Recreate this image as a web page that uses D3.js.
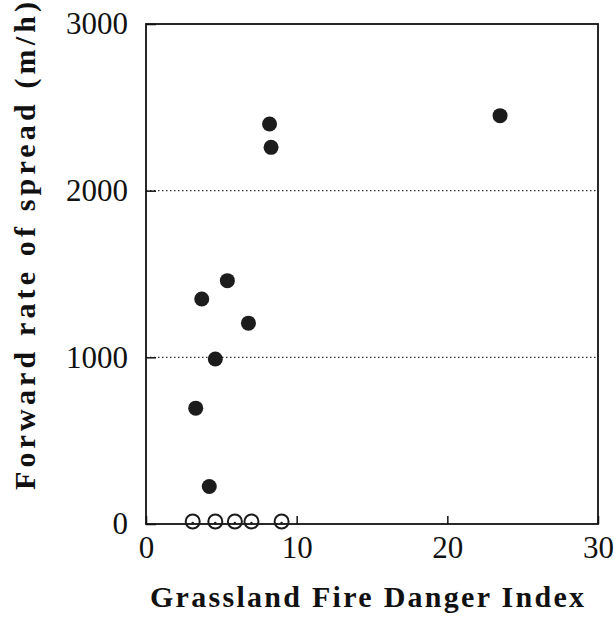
<!DOCTYPE html>
<html lang="en">
<head>
<meta charset="UTF-8">
<title>Forward rate of spread vs GFDI</title>
<style>
    body{
        margin: 0;
        background-color: #fff;
    }
    #chart{
        width: 614px;
        height: 635px;
    }
    text{
        font-family: "Liberation Serif", "DejaVu Serif", serif;
        fill: #111;
    }
</style>
</head>
<body>
<div id="chart"></div>
<script src="https://d3js.org/d3.v7.min.js"></script>
<script>

// filled circles: fires that spread
let spreadGfdi = [8.2, 8.3, 23.5, 5.4, 3.7, 6.8, 4.6, 3.3, 4.2]
let spreadRate = [2400, 2260, 2450, 1460, 1350, 1205, 990, 695, 225]

// open circles: fires that did not spread
let noSpreadGfdi = [3.1, 4.6, 5.9, 7.0, 9.0]
let noSpreadRate = [15, 15, 15, 15, 15]

let xTicks = [0, 10, 20, 30]
let yTicks = [0, 1000, 2000, 3000]
let gridLines = [1000, 2000]

let margin = {top: 24, right: 16, bottom: 111, left: 146},
    w = 614,
    h = 635,
    width = w - margin.left - margin.right,
    height = h - margin.top - margin.bottom;

let svg = d3.select("#chart")
    .append("svg")
    .attr("width", w)
    .attr("height", h)
    .append("g")
    .attr("transform", `translate(${margin.left},${margin.top})`);

let xScale = d3.scaleLinear().domain([0, 30]).range([0, width])
let yScale = d3.scaleLinear().domain([0, 3000]).range([height, 0])

// dotted gridlines
svg.selectAll(".grid")
    .data(gridLines)
    .join("line")
    .attr("class", "grid")
    .attr("x1", 0)
    .attr("x2", width)
    .attr("y1", d => yScale(d))
    .attr("y2", d => yScale(d))
    .attr("stroke", "#333")
    .attr("stroke-width", 1.2)
    .attr("stroke-dasharray", "1.5 2.5")

// x axis (ticks point inward)
let xAxis = svg.append("g")
    .attr("transform", `translate(0,${height})`)
    .call(d3.axisBottom(xScale).tickValues(xTicks).tickSize(-8).tickPadding(12).tickFormat(d3.format("d")))
xAxis.select(".domain").remove()
xAxis.selectAll(".tick line").attr("stroke", "#111").attr("stroke-width", 1.5)
xAxis.selectAll(".tick text")
    .style("font-size", "31px")
    .style("font-family", "'Liberation Serif', serif")
    .attr("fill", "#111")

// y axis
let yAxis = svg.append("g")
    .call(d3.axisLeft(yScale).tickValues(yTicks).tickSize(-10).tickPadding(18).tickFormat(d3.format("d")))
yAxis.select(".domain").remove()
yAxis.selectAll(".tick line").attr("stroke", "#111").attr("stroke-width", 1.5)
yAxis.selectAll(".tick text")
    .style("font-size", "31px")
    .style("font-family", "'Liberation Serif', serif")
    .attr("fill", "#111")

// frame
svg.append("rect")
    .attr("x", 0)
    .attr("y", 0)
    .attr("width", width)
    .attr("height", height)
    .attr("fill", "none")
    .attr("stroke", "#111")
    .attr("stroke-width", 1.8)

// filled points
svg.append("g")
    .selectAll(".dot")
    .data(spreadGfdi.map((d, i) => ({x: d, y: spreadRate[i]})))
    .join("circle")
    .attr("class", "dot")
    .attr("cx", d => xScale(d.x))
    .attr("cy", d => yScale(d.y))
    .attr("r", 7.5)
    .attr("fill", "#1c1c1c")

// open points
let open = svg.append("g")
    .selectAll(".open")
    .data(noSpreadGfdi.map((d, i) => ({x: d, y: noSpreadRate[i]})))
    .join("g")
    .attr("class", "open")
open.append("circle")
    .attr("cx", d => xScale(d.x))
    .attr("cy", d => yScale(d.y))
    .attr("r", 7)
    .attr("fill", "none")
    .attr("stroke", "#1c1c1c")
    .attr("stroke-width", 2)
open.append("circle")
    .attr("cx", d => xScale(d.x))
    .attr("cy", d => yScale(d.y) + 1.5)
    .attr("r", 1.3)
    .attr("fill", "#1c1c1c")

// axis titles
svg.append("text")
    .attr("x", width / 2 - 5)
    .attr("y", height + 83)
    .attr("text-anchor", "middle")
    .attr("textLength", 434)
    .style("font-size", "30px")
    .style("font-weight", "bold")
    .text("Grassland Fire Danger Index")

svg.append("text")
    .attr("transform", `translate(${-111},${height / 2 - 28}) rotate(-90)`)
    .attr("text-anchor", "middle")
    .attr("textLength", 488)
    .style("font-size", "30px")
    .style("font-weight", "bold")
    .text("Forward rate of spread (m/h)")

</script>
</body>
</html>
